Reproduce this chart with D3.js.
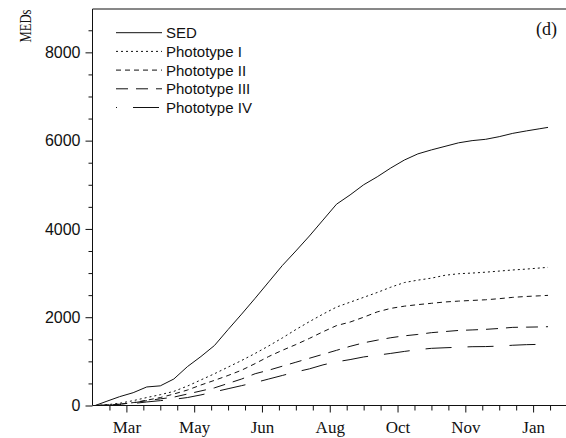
<!DOCTYPE html>
<html>
<head>
<meta charset="utf-8">
<script src="https://cdn.jsdelivr.net/npm/d3@7"></script>
<style>
  body { margin: 0; background: #fff; }
  svg { display: block; }
</style>
</head>
<body>
<div id="chart"></div>
<script>
// day of year (Jan = day 365+)
var days = [52, 60, 70, 80, 90, 100, 110, 120, 130, 140, 150, 160, 170, 180, 190, 200, 210, 220, 230, 240,
            250, 260, 270, 280, 290, 300, 310, 320, 330, 340, 350, 360, 370, 380, 386];
var sed = [0, 90, 200, 290, 420, 445, 600, 880, 1110, 1360, 1720, 2070, 2430, 2800, 3170, 3500, 3840, 4200, 4560, 4770,
           5000, 5180, 5380, 5560, 5700, 5790, 5870, 5950, 6000, 6030, 6090, 6165, 6220, 6270, 6300];
var photoI = [0, 15, 50, 110, 180, 245, 320, 440, 580, 720, 870, 1020, 1180, 1350, 1530, 1720, 1900, 2070, 2230, 2340,
              2450, 2560, 2680, 2785, 2840, 2885, 2950, 2985, 3000, 3020, 3045, 3070, 3090, 3115, 3130];
var photoII = [0, 10, 30, 65, 120, 180, 260, 350, 465, 570, 680, 800, 950, 1110, 1250, 1380, 1520, 1670, 1810, 1890,
               2000, 2120, 2200, 2250, 2285, 2315, 2345, 2365, 2380, 2395, 2420, 2450, 2470, 2485, 2495];
var photoIII = [0, 10, 30, 60, 110, 150, 190, 260, 330, 400, 500, 600, 720, 800, 890, 980, 1070, 1160, 1250, 1340,
                1420, 1480, 1535, 1578, 1610, 1650, 1675, 1700, 1712, 1725, 1745, 1770, 1775, 1780, 1785];
var photoIV = [0, 5, 20, 45, 80, 110, 140, 180, 240, 310, 380, 450, 520, 600, 680, 760, 830, 920, 990, 1040,
               1100, 1140, 1180, 1225, 1265, 1295, 1308, 1320, 1332, 1335, 1345, 1365, 1378, 1385, 1390];

var seriesNames = ["SED", "Phototype I", "Phototype II", "Phototype III", "Phototype IV"];
var monthDays = [75, 125, 175, 225, 275, 325, 375];
var monthLabels = ["Mar", "May", "Jun", "Aug", "Oct", "Nov", "Jan"];

var width = 566, height = 438;
var plotL = 92.5, plotR = 567, plotT = 8.2, plotB = 405.5;

var svg = d3.select("#chart").append("svg")
  .attr("width", width)
  .attr("height", height);

var x = d3.scaleLinear().domain([50, 400]).range([plotL, plotR]);
var y = d3.scaleLinear().domain([0, 9000]).range([plotB, plotT]);

// y axis: major every 2000, minor every 500
var yMinor = d3.range(500, 9000, 500).filter(v => v % 2000 !== 0);
svg.append("g")
  .attr("transform", `translate(${plotL},0)`)
  .call(d3.axisLeft(y).tickValues(yMinor).tickSize(4).tickFormat(""))
  .call(g => g.select(".domain").remove());
svg.append("g")
  .attr("transform", `translate(${plotL},0)`)
  .call(d3.axisLeft(y).tickValues([0, 2000, 4000, 6000, 8000]).tickSize(7).tickSizeOuter(0).tickPadding(5)
    .tickFormat(d3.format("d")))
  .call(g => g.select(".domain").remove())
  .selectAll("text")
  .style("font-family", "'Liberation Sans', Arial, sans-serif")
  .style("font-size", "16px")
  .attr("fill", "#111");

// x axis: major every 50 days, minor every 12.5
var xMinor = d3.range(62.5, 400, 12.5).filter(v => monthDays.indexOf(v) < 0);
svg.append("g")
  .attr("transform", `translate(0,${plotB})`)
  .call(d3.axisBottom(x).tickValues(xMinor).tickSize(5).tickFormat(""))
  .call(g => g.select(".domain").remove());
svg.append("g")
  .attr("transform", `translate(0,${plotB})`)
  .call(d3.axisBottom(x).tickValues(monthDays).tickSize(7)
    .tickFormat((d, i) => monthLabels[i]).tickPadding(8))
  .call(g => g.select(".domain").remove())
  .selectAll("text")
  .style("font-family", "'Liberation Serif', 'Times New Roman', serif")
  .style("font-size", "17px")
  .attr("fill", "#111");

svg.selectAll(".tick line").attr("stroke", "#111");

// frame: left, bottom, top
svg.append("path")
  .attr("d", `M${plotR},${plotT + 0.8}H${plotL}V${plotB}H${plotR}`)
  .attr("fill", "none")
  .attr("stroke", "#111")
  .attr("stroke-width", 1);

// series
var dashes = [null, "2,3", "5,4", "12,8", "26,16"];
var allSeries = [sed, photoI, photoII, photoIII, photoIV];

var line = d3.line()
  .x((d, i) => x(days[i]))
  .y(d => y(d));

svg.selectAll(".series")
  .data(allSeries)
  .enter().append("path")
  .attr("class", "series")
  .attr("d", line)
  .attr("fill", "none")
  .attr("stroke", "#111")
  .attr("stroke-width", 1)
  .attr("stroke-dasharray", (d, i) => dashes[i]);

// legend
var legend = svg.selectAll(".legend")
  .data(seriesNames)
  .enter().append("g")
  .attr("class", "legend")
  .attr("transform", (d, i) => `translate(0,${32.7 + i * 18.7})`);

legend.append("line")
  .attr("x1", 116).attr("x2", 162)
  .attr("stroke", "#111")
  .attr("stroke-width", 1)
  .attr("stroke-dasharray", (d, i) => dashes[i])
  .attr("stroke-dashoffset", (d, i) => i === 4 ? 25 : 0);

legend.append("text")
  .attr("x", 166)
  .attr("dy", ".36em")
  .style("font-family", "'Liberation Sans', Arial, sans-serif")
  .style("font-size", "15px")
  .attr("fill", "#111")
  .text(d => d);

// y label
svg.append("text")
  .attr("transform", "translate(31,26) rotate(-90)")
  .attr("text-anchor", "middle")
  .attr("textLength", 33)
  .attr("lengthAdjust", "spacingAndGlyphs")
  .style("font-family", "'Liberation Serif', 'Times New Roman', serif")
  .style("font-size", "16px")
  .attr("fill", "#111")
  .text("MEDs");

// panel tag
svg.append("text")
  .attr("x", 557)
  .attr("y", 35)
  .attr("text-anchor", "end")
  .style("font-family", "'Liberation Serif', 'Times New Roman', serif")
  .style("font-size", "18px")
  .attr("fill", "#111")
  .text("(d)");
</script>
</body>
</html>
